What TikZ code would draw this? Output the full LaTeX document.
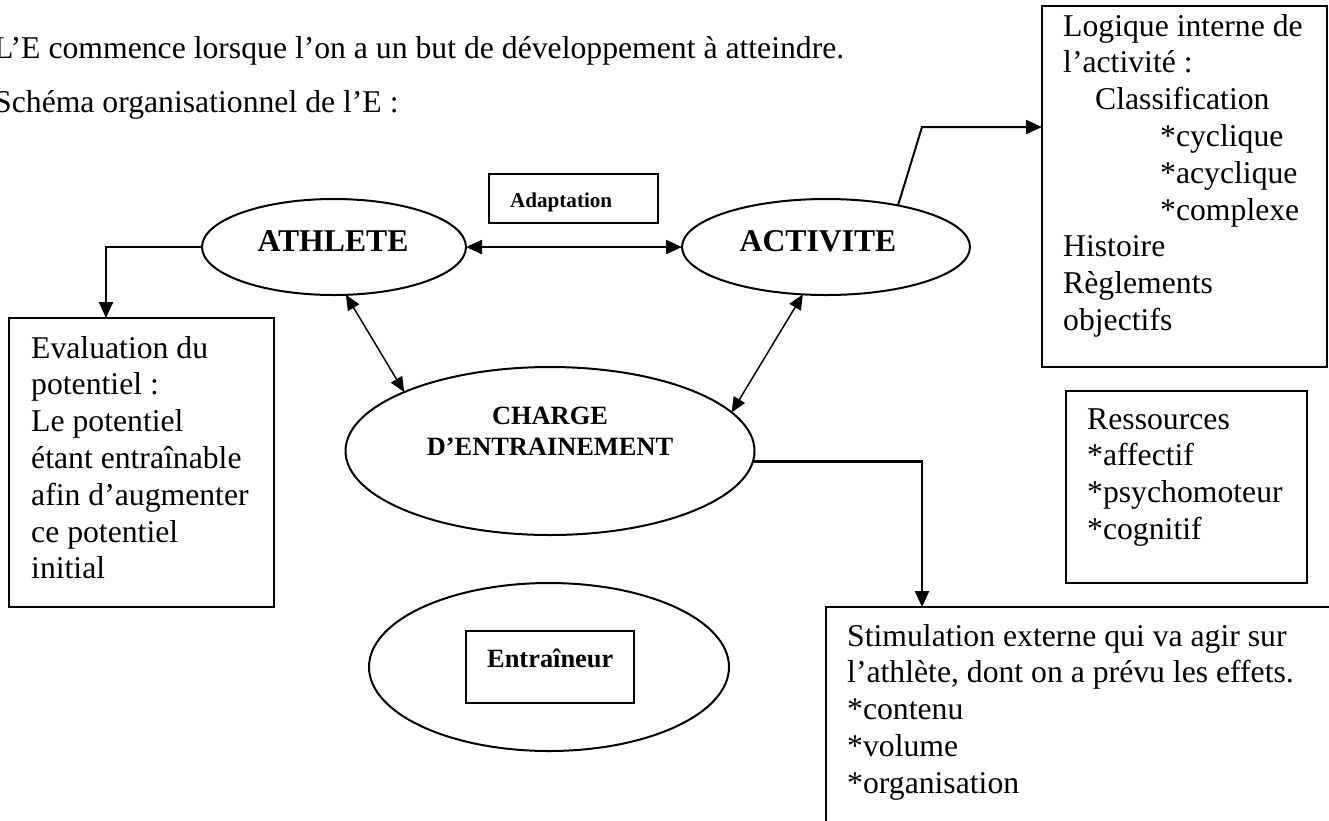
\documentclass[tikz,border=0pt]{standalone}
\usepackage{fontspec}
\setmainfont{Liberation Serif}
\usetikzlibrary{arrows.meta,shapes.geometric}
\newcommand\fReg{\fontsize{31.7}{36.8}\selectfont}
\newcommand\fBig{\fontsize{31.7}{36.8}\selectfont\bfseries}
\newcommand\fMid{\fontsize{26.4}{31}\selectfont\bfseries}
\newcommand\fSmall{\fontsize{21.1}{24}\selectfont\bfseries}
\begin{document}
\begin{tikzpicture}[x=1pt,y=-1pt,
  oval/.style={ellipse,draw,line width=2pt,inner sep=0pt,outer sep=0pt},
  box/.style={rectangle,draw,line width=2.5pt,inner sep=0pt,outer sep=0pt,anchor=north west},
  txt/.style={inner sep=0pt,anchor=base west,font=\fReg},
  ctxt/.style={inner sep=0pt,anchor=base},
  conn/.style={line width=2.3pt,-{Triangle[length=16pt,width=14pt]}},
  hconn/.style={line width=2.3pt,{Triangle[length=16pt,width=14pt]}-{Triangle[length=16pt,width=14pt]}},
  dconn/.style={line width=1.5pt,{Triangle[length=15pt,width=13pt]}-{Triangle[length=15pt,width=13pt]}}]
\useasboundingbox (0,0) rectangle (1329,820);

% top text
\node[txt] (t1) at (-6,58) {L’E commence lorsque l’on a un but de développement à atteindre.};
\node[txt] (t2) at (-6,112) {Schéma organisationnel de l’E :};

% boxes
\node[box,minimum width=169pt,minimum height=49pt] (adapt) at (489,174) {};
\node[box,minimum width=265pt,minimum height=289pt] (eval) at (9,318) {};
\node[box,minimum width=285pt,minimum height=361pt] (logique) at (1042,6) {};
\node[box,minimum width=241pt,minimum height=192pt] (ress) at (1066,391) {};
\node[box,minimum width=519pt,minimum height=223pt] (stim) at (826,607) {};

% ellipses
\node[oval,minimum width=264pt,minimum height=96pt] (athlete) at (334,247) {};
\node[oval,minimum width=288pt,minimum height=96pt] (activite) at (826,247) {};
\node[oval,minimum width=409pt,minimum height=168pt] (charge) at (550,451) {};
\node[oval,minimum width=360pt,minimum height=168pt] (coach) at (549,667) {};
\node[box,minimum width=168pt,minimum height=72pt] (coachbox) at (466,631) {};

% texts
\node[txt,font=\fSmall] (adaptT) at (510,207) {Adaptation};
\node[ctxt,font=\fBig] (athleteT) at (333,251) {ATHLETE};
\node[ctxt,font=\fBig] (activiteT) at (818,251) {ACTIVITE};
\node[ctxt,font=\fMid] (chargeT1) at (550,424) {CHARGE};
\node[ctxt,font=\fMid] (chargeT2) at (550,455) {D’ENTRAINEMENT};
\node[txt,font=\fMid] (coachT) at (487,667) {Entraîneur};

\node[txt] (evalT) at (31,358) {\vtop{\hbox{Evaluation du}\hbox{potentiel :}\hbox{Le potentiel}\hbox{étant entraînable}\hbox{afin d’augmenter}\hbox{ce potentiel}\hbox{initial}}};
\node[txt] (logiqueT) at (1063,36) {\vtop{\hbox{Logique interne de}\hbox{l’activité :}\hbox{\hspace{32pt}Classification}\hbox{\hspace{97pt}*cyclique}\hbox{\hspace{97pt}*acyclique}\hbox{\hspace{97pt}*complexe}\hbox{Histoire}\hbox{Règlements}\hbox{objectifs}}};
\node[txt] (ressT) at (1087,429) {\vtop{\hbox{Ressources}\hbox{*affectif}\hbox{*psychomoteur}\hbox{*cognitif}}};
\node[txt] (stimT) at (847,646) {\vtop{\hbox{Stimulation externe qui va agir sur}\hbox{l’athlète, dont on a prévu les effets.}\hbox{*contenu}\hbox{*volume}\hbox{*organisation}}};

% connectors
\coordinate (c1) at (106,0);
\coordinate (c2) at (922,0);
\coordinate (bend) at (922,127);
\draw[conn] (athlete.west) -| (c1 |- eval.north);
\draw[hconn] (athlete.east) -- (activite.west);
\draw[dconn] (athlete.-76) -- (charge.158);
\draw[dconn] (activite.-116) -- (charge.12);
\draw[line width=2pt,-{Triangle[length=16pt,width=14pt]}] (activite.30) -- (bend) -- (bend -| logique.west);
\draw[conn] (charge.-3) -| (c2 |- stim.north);
\end{tikzpicture}
\end{document}
